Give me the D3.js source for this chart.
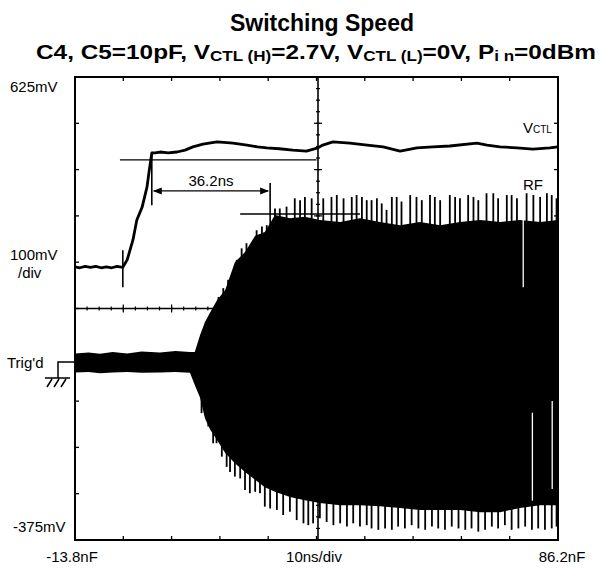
<!DOCTYPE html>
<html>
<head>
<meta charset="utf-8">
<script src="https://cdn.jsdelivr.net/npm/d3@7"></script>
<style>
  body { margin: 0; background: #fff; }
  text { font-family: "Liberation Sans", Arial, sans-serif; fill: #000; }
</style>
</head>
<body>
<div id="chart"></div>
<script>
// scope screen: time in ns, voltage in mV (as printed on the screen)
const timeRange = [-13.8, 86.2];
const voltRange = [-375, 625];
const timeDiv = 10, voltDiv = 100;

// control voltage trace [t, mV]
const vctlTrace = [
  [-13.8, 215], [-12.8, 213], [-11.7, 216], [-10.6, 214], [-9.5, 216], [-8.4, 213],
  [-7.3, 215], [-6.2, 213], [-5.1, 216], [-3.9, 214], [-3.0, 230], [-1.8, 273],
  [-1.0, 316], [0.1, 344], [1.1, 387], [1.5, 418], [2.1, 461], [2.8, 461],
  [3.8, 463], [5.5, 461], [7.3, 463], [9.0, 467], [10.6, 474], [12.7, 480],
  [15.6, 485], [17.0, 484], [18.9, 482], [21.8, 478], [24.0, 474], [25.9, 472],
  [28.5, 470], [31.3, 467], [34.1, 465], [36.5, 472], [37.5, 478], [39.6, 485],
  [43.1, 482], [46.7, 478], [50.0, 474], [53.5, 465], [57.0, 472], [60.3, 474],
  [63.8, 476], [69.4, 482], [71.5, 478], [74.2, 474], [77.7, 472], [81.0, 469],
  [84.5, 472], [86.2, 474]
];

// RF output: solid envelope [t, high mV, low mV]
const rfEnvelope = [
  [-13.8, 28, -13], [-11, 30, -12], [-8.6, 27, -15], [-6, 31, -13], [-3, 28, -12],
  [0, 32, -14], [3.8, 30, -13], [7, 33, -12], [10.0, 31, -14], [11.0, 31, -40],
  [12.1, 68, -68], [13.1, 96, -112], [14.2, 117, -137], [15.6, 143, -159],
  [17.3, 165, -187], [19.3, 225, -209], [21.4, 247, -228], [23.5, 282, -245],
  [25.5, 290, -261], [27.6, 327, -271], [30.7, 320, -282], [33.8, 323, -289],
  [36.9, 316, -295], [41.1, 312, -300], [45.2, 320, -300], [49.3, 312, -302],
  [53.5, 305, -306], [57.6, 312, -310], [61.8, 305, -310], [65.9, 312, -310],
  [70.1, 316, -315], [74.2, 312, -315], [78.3, 316, -306], [82.5, 312, -300],
  [86.2, 316, -300]
];

// RF peaks above the envelope [t, mV]
const rfPeaksHigh = [
  [15.9, 150], [16.9, 169], [17.9, 187], [18.6, 194], [19.7, 230], [20.7, 255],
  [21.7, 266], [22.8, 251], [23.8, 294], [24.9, 302], [25.9, 305], [27.6, 341],
  [28.6, 341], [30.0, 345], [31.7, 363], [32.8, 359], [33.8, 366], [35.2, 363],
  [37.6, 363], [39.3, 366], [40.4, 370], [41.8, 363], [43.5, 366], [44.5, 370],
  [45.6, 366], [46.6, 359], [47.6, 359], [48.7, 363], [49.7, 352], [50.7, 338],
  [51.8, 366], [52.8, 366], [53.8, 356], [55.6, 370], [56.9, 366], [58.0, 359],
  [59.7, 370], [60.7, 366], [61.8, 359], [63.8, 370], [64.9, 366], [65.9, 363],
  [67.6, 370], [68.7, 366], [69.7, 359], [71.4, 374], [72.8, 374], [73.8, 363],
  [75.6, 370], [76.6, 370], [77.7, 363], [79.7, 374], [81.1, 370], [82.5, 366],
  [83.9, 374], [84.9, 370], [85.9, 363]
];

// RF peaks below the envelope [t, mV]
const rfPeaksLow = [
  [12.4, -101], [13.8, -130], [14.8, -166], [15.5, -166], [16.6, -195], [17.6, -217],
  [18.3, -228], [19.3, -238], [20.4, -242], [21.4, -267], [22.4, -274], [23.5, -271],
  [24.5, -274], [25.5, -303], [26.6, -307], [28.0, -310], [29.3, -321], [30.7, -314],
  [32.1, -332], [33.5, -339], [34.5, -343], [35.5, -339], [36.9, -328], [38.3, -336],
  [39.7, -343], [41.1, -339], [42.5, -346], [43.8, -339], [45.2, -346], [46.6, -343],
  [47.6, -350], [49.0, -353], [50.4, -350], [51.8, -353], [53.1, -346], [54.5, -350],
  [55.9, -343], [57.3, -350], [58.7, -353], [60.1, -346], [61.4, -350], [62.8, -353],
  [64.2, -346], [65.6, -350], [67.0, -353], [68.3, -350], [69.7, -357], [71.1, -353],
  [72.5, -346], [73.8, -350], [75.2, -343], [76.6, -353], [78.0, -350], [79.4, -346],
  [80.8, -353], [82.1, -350], [83.5, -353], [84.9, -350], [85.9, -346]
];

// missing samples inside the RF trace [t, mV from, mV to]
const rfDropouts = [[79.0, 320, 171], [80.9, -100, -290], [85.0, -75, -265]];

// cursors
const cursorLevels = [[-4.5, 36.2, 446], [20.4, 45.2, 329]];      // [t0, t1, mV]
const cursorMarks = [[-3.9, 251, 171], [2.1, 461, 348], [26.6, 396, 258]]; // [t, mV0, mV1]
const delayArrow = [2.1, 26.6, 379];
const delayLabel = "36.2ns";

const title = "Switching Speed";
const subtitle = [
  ["C4, C5=10pF, V", false], ["CTL (H)", true], ["=2.7V, V", false], ["CTL (L)", true],
  ["=0V, P", false], ["i n", true], ["=0dBm", false]
];
const voltLabels = [["625mV", 625], ["-375mV", -375]];
const timeLabels = ["-13.8nF", "10ns/div", "86.2nF"];

const width = 600, height = 569;
const svg = d3.select("#chart").append("svg")
  .attr("width", width).attr("height", height);

const x = d3.scaleLinear().domain(timeRange).range([75, 558]);
const y = d3.scaleLinear().domain(voltRange).range([540, 77]);

const tMid = (timeRange[0] + timeRange[1]) / 2;
const vMid = (voltRange[0] + voltRange[1]) / 2;
const tDivs = d3.range(timeRange[0], timeRange[1] + 0.01, timeDiv);
const vDivs = d3.range(voltRange[0], voltRange[1] + 0.01, voltDiv);
const tMinor = d3.range(timeRange[0], timeRange[1] + 0.01, timeDiv / 4);
const vMinor = d3.range(voltRange[0], voltRange[1] + 0.01, voltDiv / 4);

/* graticule: center cross with small ticks, edge ticks */
const grat = svg.append("g").attr("stroke", "#000");
grat.append("line")
  .attr("x1", x(timeRange[0])).attr("x2", x(timeRange[1]))
  .attr("y1", y(vMid)).attr("y2", y(vMid)).attr("stroke-width", 1.4);
grat.append("line")
  .attr("x1", x(tMid) + 1.5).attr("x2", x(tMid) + 1.5)
  .attr("y1", y(voltRange[0])).attr("y2", y(voltRange[1])).attr("stroke-width", 1.6);
grat.selectAll(".hmin").data(tMinor).enter().append("line")
  .attr("x1", d => x(d)).attr("x2", d => x(d))
  .attr("y1", y(vMid) - 2).attr("y2", y(vMid) + 2).attr("stroke-width", 1.2);
grat.selectAll(".hmaj").data(tDivs).enter().append("line")
  .attr("x1", d => x(d)).attr("x2", d => x(d))
  .attr("y1", y(vMid) - 4).attr("y2", y(vMid) + 4).attr("stroke-width", 1.2);
grat.selectAll(".vmin").data(vMinor).enter().append("line")
  .attr("y1", d => y(d)).attr("y2", d => y(d))
  .attr("x1", x(tMid) - 0.5).attr("x2", x(tMid) + 3.5).attr("stroke-width", 1.2);
grat.selectAll(".vmaj").data(vDivs).enter().append("line")
  .attr("y1", d => y(d)).attr("y2", d => y(d))
  .attr("x1", x(tMid) - 2.5).attr("x2", x(tMid) + 5.5).attr("stroke-width", 1.2);
// edge ticks
[[y(voltRange[1]), 4], [y(voltRange[0]), -4]].forEach(([yy, len]) => {
  grat.selectAll(null).data(tDivs).enter().append("line")
    .attr("x1", d => x(d)).attr("x2", d => x(d))
    .attr("y1", yy).attr("y2", yy + len).attr("stroke-width", 1.3);
});
[[x(timeRange[0]), 4], [x(timeRange[1]), -4]].forEach(([xx, len]) => {
  grat.selectAll(null).data(vDivs).enter().append("line")
    .attr("y1", d => y(d)).attr("y2", d => y(d))
    .attr("x1", xx).attr("x2", xx + len).attr("stroke-width", 1.3);
});

/* RF trace */
const rf = svg.append("g");
rf.append("path").datum(rfEnvelope)
  .attr("d", d3.area().x(d => x(d[0])).y0(d => y(d[2])).y1(d => y(d[1])))
  .attr("fill", "#000");
rf.selectAll(".ph").data(rfPeaksHigh.concat(rfPeaksLow)).enter().append("line")
  .attr("x1", d => x(d[0])).attr("x2", d => x(d[0]))
  .attr("y1", y(0)).attr("y2", d => y(d[1]))
  .attr("stroke", "#000").attr("stroke-width", 1.8);
rf.selectAll(".drop").data(rfDropouts).enter().append("line")
  .attr("x1", d => x(d[0])).attr("x2", d => x(d[0]))
  .attr("y1", d => y(d[1])).attr("y2", d => y(d[2]))
  .attr("stroke", "#fff").attr("stroke-width", 1.3);

/* cursors */
const cur = svg.append("g").attr("stroke", "#000").attr("stroke-width", 1.4);
cur.selectAll(".ch").data(cursorLevels).enter().append("line")
  .attr("x1", d => x(d[0])).attr("x2", d => x(d[1]))
  .attr("y1", d => y(d[2])).attr("y2", d => y(d[2]));
cur.selectAll(".cv").data(cursorMarks).enter().append("line")
  .attr("x1", d => x(d[0])).attr("x2", d => x(d[0]))
  .attr("y1", d => y(d[1])).attr("y2", d => y(d[2])).attr("stroke-width", 1.6);
cur.append("line")
  .attr("x1", x(delayArrow[0]) + 2).attr("x2", x(delayArrow[1]) - 2)
  .attr("y1", y(delayArrow[2])).attr("y2", y(delayArrow[2]));
const ay = y(delayArrow[2]);
const ax0 = x(delayArrow[0]), ax1 = x(delayArrow[1]);
svg.append("path")
  .attr("d", `M${ax0 + 1},${ay} l9,-3.5 l0,7 Z M${ax1 - 1},${ay} l-9,-3.5 l0,7 Z`)
  .attr("fill", "#000");
svg.append("text")
  .attr("x", (ax0 + ax1) / 2).attr("y", ay - 5)
  .attr("text-anchor", "middle").attr("font-size", 15)
  .text(delayLabel);

/* control voltage */
svg.append("path").datum(vctlTrace)
  .attr("d", d3.line().x(d => x(d[0])).y(d => y(d[1])))
  .attr("fill", "none").attr("stroke", "#000").attr("stroke-width", 2.8)
  .attr("stroke-linejoin", "round");

/* frame */
svg.append("rect")
  .attr("x", x(timeRange[0])).attr("y", y(voltRange[1]))
  .attr("width", x(timeRange[1]) - x(timeRange[0]))
  .attr("height", y(voltRange[0]) - y(voltRange[1]))
  .attr("fill", "none").attr("stroke", "#000").attr("stroke-width", 2);

/* trace labels */
const vl = svg.append("text").attr("x", 523).attr("y", y(470) - 16).attr("font-size", 15);
vl.append("tspan").text("V");
vl.append("tspan").attr("font-size", 10).text("CTL");
svg.append("text").attr("x", 523).attr("y", y(370) - 5).attr("font-size", 15).text("RF");

/* titles */
svg.append("text").attr("x", 322).attr("y", 31)
  .attr("text-anchor", "middle").attr("font-size", 23).attr("font-weight", "bold")
  .text(title);
const st = svg.append("text").attr("x", 316).attr("y", 59)
  .attr("text-anchor", "middle").attr("font-size", 20).attr("font-weight", "bold")
  .attr("textLength", 560).attr("lengthAdjust", "spacingAndGlyphs");
subtitle.forEach(([s, sub], i) => {
  const prev = i > 0 && subtitle[i - 1][1];
  st.append("tspan").attr("font-size", sub ? 14 : 20)
    .attr("dy", sub ? 2 : (prev ? -2 : 0)).text(s);
});

/* axis corner labels */
svg.selectAll(".vlab").data(voltLabels).enter().append("text")
  .attr("x", d => d[1] > 0 ? 10 : 13).attr("y", d => y(d[1]) + (d[1] > 0 ? 15 : -8))
  .attr("font-size", 15).text(d => d[0]);
svg.append("text").attr("x", 10).attr("y", 260).attr("font-size", 15).text("100mV");
svg.append("text").attr("x", 18).attr("y", 278).attr("font-size", 15).text("/div");
const tl = svg.append("g");
tl.selectAll("text").data(timeLabels).enter().append("text")
  .attr("x", (d, i) => [72, 314, 562][i]).attr("y", 562)
  .attr("text-anchor", "middle").attr("font-size", 15).text(d => d);

/* trigger marker */
svg.append("text").attr("x", 7).attr("y", 368).attr("font-size", 15).text("Trig'd");
svg.append("path")
  .attr("d", "M75,362 H58 V378 M45,378 H70 M47,387 l5,-8 M54,387 l5,-8 M61,387 l5,-8")
  .attr("fill", "none").attr("stroke", "#000").attr("stroke-width", 1.5);
</script>
</body>
</html>
